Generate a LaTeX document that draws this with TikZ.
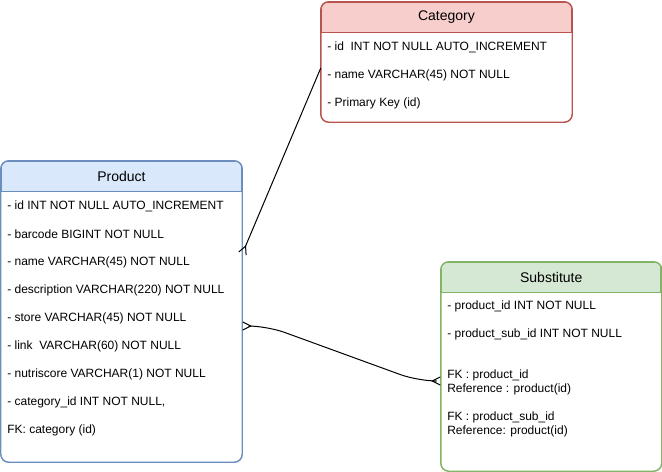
\documentclass[tikz,border=0pt]{standalone}
\usepackage{fontspec}
\setmainfont{Liberation Sans}
\usetikzlibrary{arrows.meta}

\definecolor{catfill}{HTML}{F8CECC}
\definecolor{catline}{HTML}{B85450}
\definecolor{prodfill}{HTML}{DAE8FC}
\definecolor{prodline}{HTML}{6C8EBF}
\definecolor{subfill}{HTML}{D5E8D4}
\definecolor{subline}{HTML}{82B366}

\begin{document}
\begin{tikzpicture}[x=0.75pt, y=-0.75pt, font=\fontsize{9}{11}\selectfont,
  table/.style={rounded corners=6pt, line width=1.1pt, fill=white, inner sep=0pt},
  head/.style={line width=1.1pt, inner sep=0pt, minimum height=22.5pt, font=\fontsize{10.5}{12}\selectfont},
  row/.style={anchor=west, inner sep=0pt},
  crow/.style={line width=0.75pt, {Straight Barb[reversed,length=6pt,width=6pt]}-{Straight Barb[reversed,length=6pt,width=6pt]}},
  crowend/.style={line width=0.75pt, -{Straight Barb[reversed,length=6pt,width=6pt]}}]
\useasboundingbox (0,0) rectangle (662,472);

% tables
\node[table, minimum width=187.5pt, minimum height=89.25pt] (category) at (446.5,62) {};
\node[table, minimum width=180pt, minimum height=225pt] (product) at (121.5,311.5) {};
\node[table, minimum width=164.625pt, minimum height=156pt] (substitute) at (551.25,366.5) {};

% headers
\begin{scope}
\clip[rounded corners=6pt] (category.south west) rectangle (category.north east);
\node[head, fill=catfill, draw=catline, anchor=north, minimum width=187.5pt] (cathead) at (category.north) {Category};
\end{scope}
\begin{scope}
\clip[rounded corners=6pt] (product.south west) rectangle (product.north east);
\node[head, fill=prodfill, draw=prodline, anchor=north, minimum width=180pt] (prodhead) at (product.north) {Product};
\end{scope}
\begin{scope}
\clip[rounded corners=6pt] (substitute.south west) rectangle (substitute.north east);
\node[head, fill=subfill, draw=subline, anchor=north, minimum width=164.625pt] (subhead) at (substitute.north) {Substitute};
\end{scope}
\draw[catline, line width=1.1pt, rounded corners=6pt] (category.south west) rectangle (category.north east);
\draw[prodline, line width=1.1pt, rounded corners=6pt] (product.south west) rectangle (product.north east);
\draw[subline, line width=1.1pt, rounded corners=6pt] (substitute.south west) rectangle (substitute.north east);

% category rows
\node[row] (cid) at (327,47) {- id\ \ INT NOT NULL AUTO\_INCREMENT};
\node[row] (cname) at (327,75) {- name VARCHAR(45) NOT NULL};
\node[row] (ckey) at (327,103) {- Primary Key (id)};

% product rows
\node[row] (pid) at (7,206) {- id INT NOT NULL AUTO\_INCREMENT};
\node[row] (pbarcode) at (7,234) {- barcode BIGINT NOT NULL};
\node[row] (pname) at (7,262) {- name VARCHAR(45) NOT NULL};
\node[row] (pdesc) at (7,290) {- description VARCHAR(220) NOT NULL};
\node[row] (pstore) at (7,318) {- store VARCHAR(45) NOT NULL};
\node[row] (plink) at (7,346) {- link\ \ VARCHAR(60) NOT NULL};
\node[row] (pnutri) at (7,374) {- nutriscore VARCHAR(1) NOT NULL};
\node[row] (pcatid) at (7,402) {- category\_id INT NOT NULL,};
\node[row] (pfk) at (7,430) {FK: category (id)};

% substitute rows
\node[row] (sprod) at (447,306) {- product\_id INT NOT NULL};
\node[row] (ssub) at (447,334) {- product\_sub\_id INT NOT NULL};
\node[row, align=left, font=\fontsize{9}{10.5}\selectfont] (sfk1) at (447,382.5) {FK : product\_id\\Reference : product(id)};
\node[row, align=left, font=\fontsize{9}{10.5}\selectfont] (sfk2) at (447,424.5) {FK : product\_sub\_id\\Reference: product(id)};

% relations
\draw[crowend] (category.west |- 0,68) -- (product.east |- 0,254);
\draw[crow, rounded corners=14pt] (product.east |- 0,326) -- (267,326) -- (418,381) -- (substitute.west |- 0,381);
\end{tikzpicture}
\end{document}
